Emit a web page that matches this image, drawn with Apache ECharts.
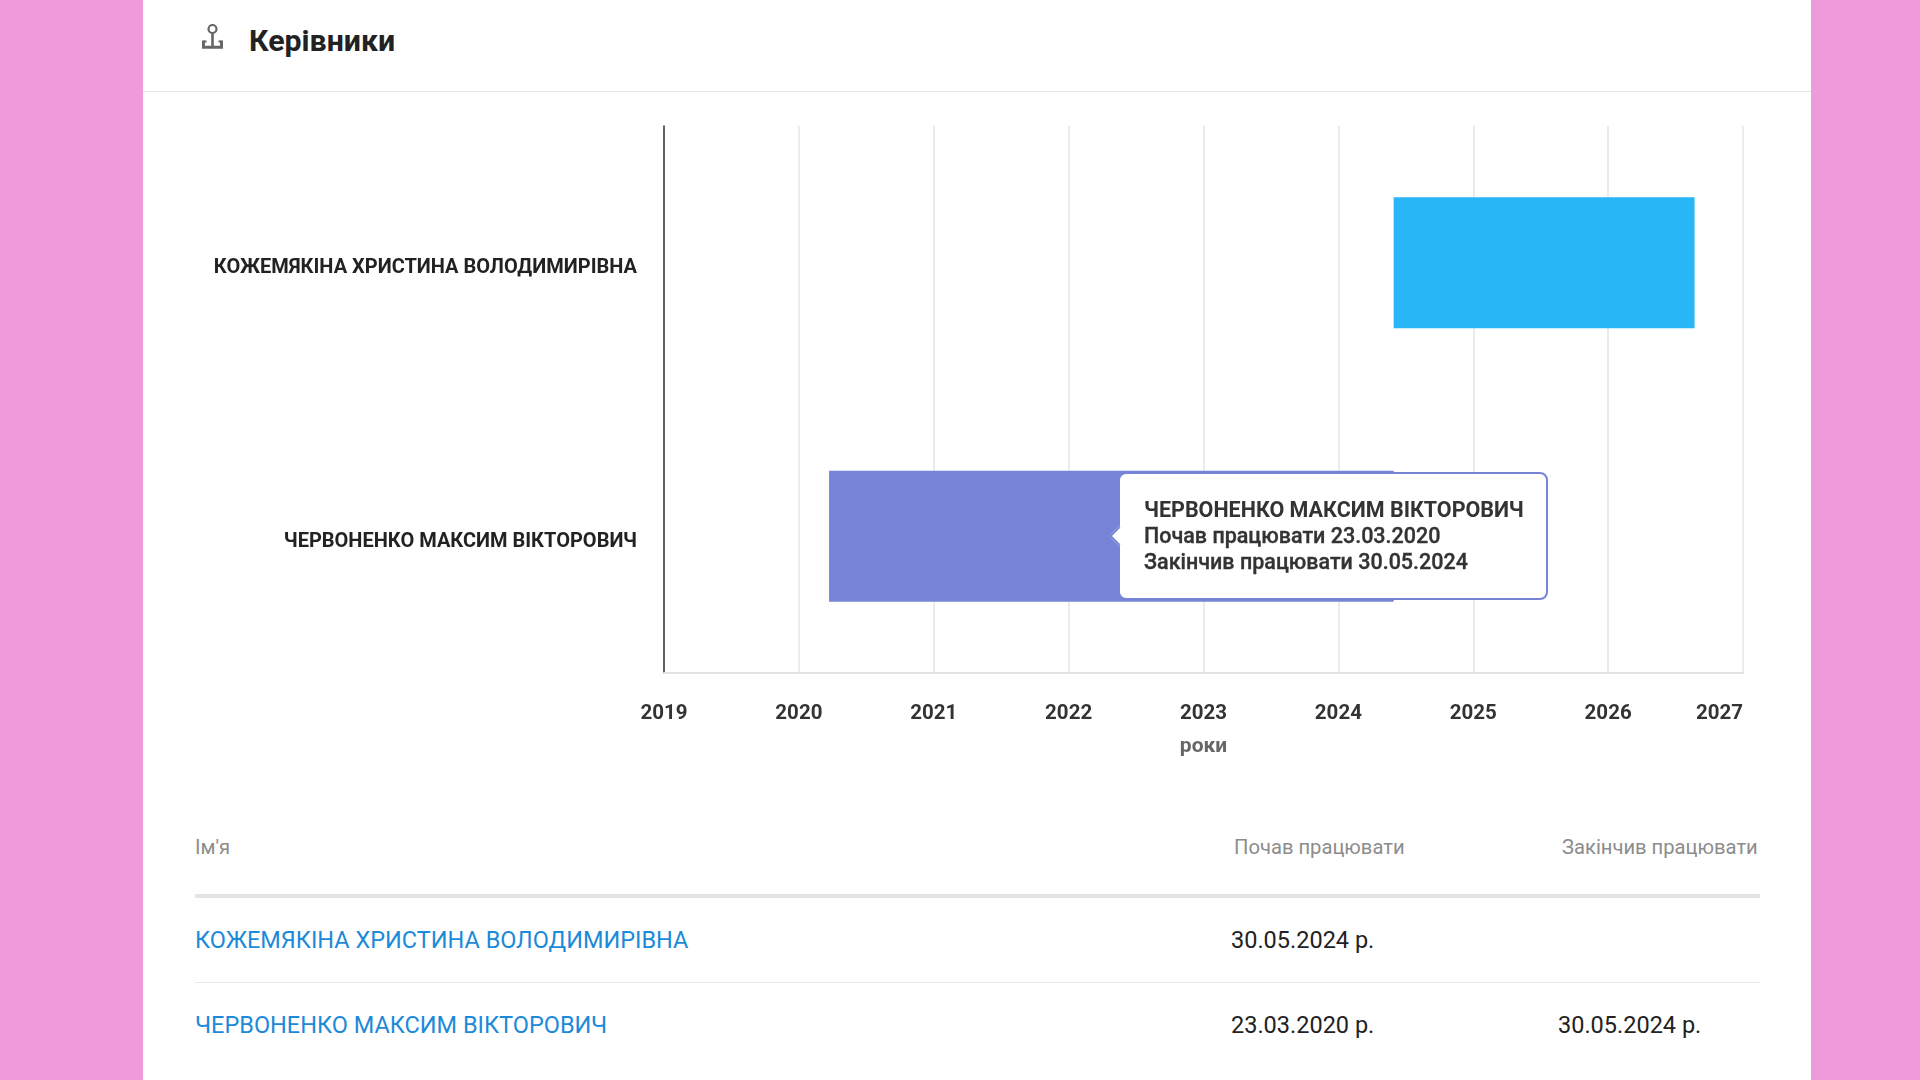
<!DOCTYPE html>
<html lang="uk">
<head>
<meta charset="utf-8">
<title>Керівники</title>
<script src="https://cdn.jsdelivr.net/npm/echarts@6/dist/echarts.min.js"></script>
<style>
  html, body { margin: 0; padding: 0; }
  body { width: 1920px; height: 1080px; background: #EF9ADB; overflow: hidden; position: relative; font-family: Roboto, "Noto Sans", sans-serif; }
  #card { position: absolute; left: 143px; top: 0; width: 1668px; height: 1080px; background: #fff; }
  #chart { position: absolute; left: 0; top: 0; width: 1920px; height: 800px; z-index: 2; }
  .abs { position: absolute; white-space: nowrap; }
  #title { left: 249px; top: 21px; height: 40px; line-height: 40px; font-size: 30.3px; font-weight: 700; color: #222; }
  #icon { left: 201px; top: 23px; }
  #divider { left: 143px; top: 91px; width: 1668px; height: 1px; background: #e6e6e6; }
  .th { font-size: 20.2px; color: #8c8c8c; height: 30px; line-height: 30px; }
  .td { font-size: 23.5px; color: #222; height: 34px; line-height: 34px; }
  .link { color: #1C8AD9; }
  .thick { left: 195px; width: 1565px; height: 4px; background: #e4e4e4; }
  .thin { left: 195px; width: 1565px; height: 1px; background: #e8e8e8; }
</style>
</head>
<body>
<div id="card"></div>
<svg id="icon" class="abs" width="24" height="27" viewBox="0 0 24 27">
  <circle cx="11.5" cy="6" r="4" fill="none" stroke="#666" stroke-width="2.2"/>
  <path d="M11.5 10 V24" stroke="#666" stroke-width="2.6" fill="none"/>
  <path d="M2.5 17.5 V24.2 H20.5 V17.5" stroke="#666" stroke-width="3" fill="none"/>
  <path d="M2.5 18.5 H5.5 M20.5 18.5 H17.5" stroke="#666" stroke-width="2.2" fill="none"/>
</svg>
<div id="title" class="abs">Керівники</div>
<div id="divider" class="abs"></div>
<div id="table"></div>
<div id="chart"></div>
<script>
// ---- data ----
const names = ['КОЖЕМЯКІНА ХРИСТИНА ВОЛОДИМИРІВНА', 'ЧЕРВОНЕНКО МАКСИМ ВІКТОРОВИЧ'];
const startDates = ['30.05.2024', '23.03.2020'];
const endDates = ['', '30.05.2024'];
const barEndDates = ['23.08.2026', '30.05.2024']; // end of drawn bar (ongoing one)
const barColors = ['#29B6F6', '#7684D7'];
const yearMin = 2019;
const yearMax = 2027;
const axisName = 'роки';
const tableHeaders = ["Ім'я", 'Почав працювати', 'Закінчив працювати'];
const tooltipIndex = 1;

function toYear(s) {
  const [d, m, y] = s.split('.').map(Number);
  const a = Date.UTC(y, 0, 1), b = Date.UTC(y + 1, 0, 1);
  return y + (Date.UTC(y, m - 1, d) - a) / (b - a);
}

// ---- table (HTML) ----
(function buildTable() {
  const t = document.getElementById('table');
  const colX = [195, 1234, 1562];
  let html = '';
  tableHeaders.forEach((h, i) => {
    html += `<div class="abs th" style="left:${colX[i]}px;top:832px">${h}</div>`;
  });
  html += `<div class="abs thick" style="top:894px"></div>`;
  const rowCenters = [940, 1025];
  names.forEach((n, i) => {
    const top = rowCenters[i] - 17;
    html += `<div class="abs td link" style="left:${colX[0]}px;top:${top}px">${n}</div>`;
    html += `<div class="abs td" style="left:1231px;top:${top}px">${startDates[i]} р.</div>`;
    if (endDates[i]) html += `<div class="abs td" style="left:1558px;top:${top}px">${endDates[i]} р.</div>`;
    if (i < names.length - 1) html += `<div class="abs thin" style="top:982px"></div>`;
  });
  t.innerHTML = html;
})();

// ---- chart ----
const chart = echarts.init(document.getElementById('chart'), null, { renderer: 'canvas' });
const seriesData = names.map((n, i) => [i, toYear(startDates[i]), toYear(barEndDates[i])]);

const font = 'Roboto, "Noto Sans", sans-serif';
const option = {
  animation: false,
  textStyle: { fontFamily: font },
  grid: { left: 664, right: 177, top: 126, bottom: 127, containLabel: false },
  xAxis: {
    type: 'value',
    min: yearMin,
    max: yearMax,
    interval: 1,
    name: axisName,
    nameLocation: 'middle',
    nameGap: 63,
    nameTextStyle: { fontSize: 21, fontWeight: 700, color: '#666', fontFamily: font },
    axisLine: { show: true, lineStyle: { color: '#e2e2e2', width: 2 } },
    axisTick: { show: false },
    axisLabel: {
      formatter: v => String(v),
      fontSize: 20.5, fontWeight: 700, color: '#333', margin: 30,
      fontFamily: font,
      alignMaxLabel: 'right'
    },
    splitLine: { show: true, lineStyle: { color: '#ebebeb', width: 2 } }
  },
  yAxis: {
    type: 'category',
    data: names,
    inverse: true,
    axisLine: { show: true, lineStyle: { color: '#333', width: 1.5 } },
    axisTick: { show: false },
    axisLabel: {
      margin: 27,
      formatter: v => '{n|' + v + '}',
      rich: {
        n: { fontSize: 20, fontWeight: 700, color: '#222', fontFamily: font, padding: [11, 0, 0, 0] }
      }
    },
    splitLine: { show: false }
  },
  tooltip: {
    trigger: 'item',
    triggerOn: 'none',
    alwaysShowContent: true,
    transitionDuration: 0,
    backgroundColor: '#fff',
    borderColor: '#7684D7',
    borderWidth: 2,
    borderRadius: 8,
    padding: [23, 22, 23, 24],
    extraCssText: 'box-shadow:none;',
    textStyle: { fontSize: 21.5, color: '#333', fontFamily: font },
    position: function (point, params, dom, rect, size) {
      const i = params.dataIndex;
      const a = chart.convertToPixel({ gridIndex: 0 }, [seriesData[i][1], i]);
      const b = chart.convertToPixel({ gridIndex: 0 }, [seriesData[i][2], i]);
      return [(a[0] + b[0]) / 2 + 7, a[1] - size.contentSize[1] / 2];
    },
    formatter: function (p) {
      const i = p.dataIndex;
      const arrow = '<div style="position:absolute;left:-8px;top:50%;margin-top:-7px;width:12px;height:12px;background:#fff;border-left:2px solid #7684D7;border-bottom:2px solid #7684D7;transform:rotate(45deg);"></div>';
      return '<div style="line-height:26px;font-size:21.5px;color:#333;">' +
        `<div style="font-weight:700;">${names[i]}</div>` +
        `<div style="font-weight:500;-webkit-text-stroke:0.35px #333;">Почав працювати ${startDates[i]}</div>` +
        `<div style="font-weight:500;-webkit-text-stroke:0.35px #333;">Закінчив працювати ${endDates[i] || ''}</div>` +
        '</div>' + arrow;
    }
  },
  series: [{
    type: 'custom',
    data: seriesData,
    encode: { x: [1, 2], y: 0 },
    renderItem: function (params, api) {
      const cat = api.value(0);
      const s = api.coord([api.value(1), cat]);
      const e = api.coord([api.value(2), cat]);
      const h = api.size([0, 1])[1] * 0.479;
      return {
        type: 'rect',
        shape: { x: s[0], y: s[1] - h / 2, width: e[0] - s[0], height: h },
        style: { fill: barColors[params.dataIndex] }
      };
    }
  }]
};
chart.setOption(option);
chart.dispatchAction({ type: 'showTip', seriesIndex: 0, dataIndex: tooltipIndex });
</script>
</body>
</html>
